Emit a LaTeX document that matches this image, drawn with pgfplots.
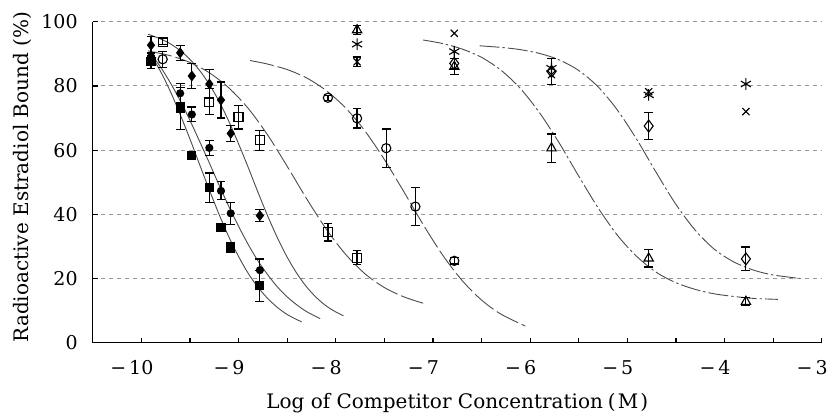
\documentclass[border=0pt]{standalone}
\usepackage{fontspec}
\setmainfont{DejaVu Serif}
\usepackage{pgfplots}
\pgfplotsset{compat=1.18}
\definecolor{gridgray}{gray}{0.6}
\definecolor{curvegray}{gray}{0.3}
\tikzset{
  fitline/.style={curvegray, line width=0.45pt, smooth, no markers},
  dlong/.style={dash pattern=on 12pt off 2pt},
  ddot/.style={dash pattern=on 10pt off 1.5pt on 1.2pt off 1.5pt},
}
\pgfplotsset{
  pts/.style={black, only marks, line width=0.55pt,
    error bars/y dir=both, error bars/y explicit,
    error bars/error bar style={line width=0.6pt, black, solid},
    error bars/error mark options={rotate=90, mark size=2.2pt, line width=0.6pt, black}},
  bare/.style={black, only marks, line width=0.55pt},
}
\newcommand{\negl}[1]{\llap{−\hspace{1.5pt}}#1}
\begin{document}
\begin{tikzpicture}
\begin{axis}[
  scale only axis, width=364.5pt, height=160.5pt,
  xmin=-10.5, xmax=-3, ymin=0, ymax=100,
  axis x line*=bottom, axis y line*=left,
  axis line style={line width=0.75pt, black},
  xtick={-10,-9,...,-3}, minor xtick={-10.5,-9.5,...,-3.5},
  xticklabels={\negl{10},\negl{9},\negl{8},\negl{7},\negl{6},\negl{5},\negl{4},\negl{3}},
  ytick={0,20,...,100}, yticklabels={0,20,40,60,80,100},
  tick align=inside, major tick length=2.5pt, minor tick length=2.5pt,
  tick style={line width=0.6pt, black},
  ymajorgrids, grid style={gridgray, line width=0.5pt, dash pattern=on 2pt off 2pt},
  tick label style={font=\fontsize{9.5}{11}\selectfont},
  xticklabel style={yshift=-5.5pt},
  yticklabel style={xshift=-4pt},
  label style={font=\fontsize{10}{12}\selectfont},
  xlabel={Log of Competitor Concentration\hspace{0.25em}(\hspace{0.1em}M\hspace{0.1em})},
  ylabel={Radioactive Estradiol Bound (\%)},
  xlabel style={at={(axis description cs:0.5,-0.204)}, anchor=base},
  ylabel style={at={(axis description cs:-0.088,0.516)}, anchor=base},
  clip=false,
]
% fitted curves
\addplot[fitline] coordinates {(-9.91,90.2) (-9.8,84.4) (-9.7,78.2) (-9.6,71.1) (-9.5,63.5) (-9.4,55.5) (-9.3,47.6) (-9.2,40.0) (-9.1,33.0) (-9.0,26.9) (-8.9,21.6) (-8.8,17.3) (-8.7,13.8) (-8.6,11.0) (-8.5,8.8) (-8.4,7.2) (-8.35,6.5)};
\addplot[fitline] coordinates {(-9.91,90.3) (-9.8,85.8) (-9.7,80.9) (-9.6,75.4) (-9.5,69.3) (-9.4,62.7) (-9.3,56.0) (-9.2,49.1) (-9.1,42.5) (-9.0,36.3) (-8.9,30.6) (-8.8,25.5) (-8.7,21.2) (-8.6,17.4) (-8.5,14.3) (-8.4,11.8) (-8.3,9.7) (-8.16,7.5)};
\addplot[fitline] coordinates {(-9.93,96.1) (-9.8,94.6) (-9.7,93.1) (-9.6,91.0) (-9.5,88.3) (-9.4,84.8) (-9.3,80.5) (-9.2,75.2) (-9.1,69.0) (-9.0,62.0) (-8.9,54.6) (-8.8,46.9) (-8.7,39.5) (-8.6,32.7) (-8.5,26.7) (-8.4,21.6) (-8.3,17.4) (-8.2,14.1) (-8.1,11.5) (-8.0,9.6) (-7.92,8.4)};
\addplot[fitline, dlong] coordinates {(-9.93,90.9) (-9.7,89.4) (-9.5,87.3) (-9.3,84.1) (-9.1,79.4) (-8.9,73.0) (-8.7,64.7) (-8.5,55.0) (-8.3,44.9) (-8.1,35.5) (-7.9,27.6) (-7.7,21.5) (-7.5,17.2) (-7.3,14.3) (-7.1,12.3)};
\addplot[fitline, dlong] coordinates {(-8.88,87.9) (-8.7,86.8) (-8.5,85.1) (-8.3,82.5) (-8.1,78.6) (-7.9,73.2) (-7.7,66.0) (-7.5,57.1) (-7.3,47.1) (-7.1,36.8) (-6.9,27.3) (-6.7,19.4) (-6.5,13.3) (-6.3,8.9) (-6.05,5.2)};
\addplot[fitline, ddot] coordinates {(-7.1,94.3) (-6.9,93.2) (-6.7,91.5) (-6.5,88.9) (-6.3,84.9) (-6.1,79.2) (-5.9,71.5) (-5.7,62.2) (-5.5,51.9) (-5.3,42.0) (-5.1,33.4) (-4.9,26.8) (-4.7,21.9) (-4.5,18.7) (-4.3,16.6) (-4.1,15.2) (-3.9,14.4) (-3.7,13.8) (-3.45,13.5)};
\addplot[fitline, ddot] coordinates {(-6.52,92.5) (-6.3,92.0) (-6.1,91.3) (-5.9,90.1) (-5.7,88.1) (-5.5,84.8) (-5.3,79.7) (-5.1,72.4) (-4.9,63.2) (-4.7,52.9) (-4.5,43.1) (-4.3,35.0) (-4.1,29.0) (-3.9,25.1) (-3.7,22.6) (-3.5,21.1) (-3.22,20.0)};
% filled squares
\addplot[pts, mark=square*, mark size=2pt] coordinates {
(-9.90,87.5) +- (0,2) (-9.60,73.0) +- (0,6.5) (-9.48,58.3) +- (0,0.8) (-9.30,48.3) +- (0,4.6)
(-9.18,35.8) +- (0,1) (-9.08,29.6) +- (0,1.6) (-8.78,17.7) +- (0,4.8)};
% filled circles
\addplot[pts, mark=*, mark size=1.75pt] coordinates {
(-9.90,89) +- (0,1.5) (-9.60,77.7) +- (0,3) (-9.48,71.1) +- (0,2.3) (-9.30,60.7) +- (0,2.3)
(-9.18,47.3) +- (0,2.8) (-9.08,40.3) +- (0,3.5) (-8.78,22.6) +- (0,3.5)};
% filled diamonds
\addplot[pts, mark=diamond*, mark size=2.3pt] coordinates {
(-9.90,92.7) +- (0,2.6) (-9.60,90.3) +- (0,2.3) (-9.48,83.1) +- (0,3.9) (-9.30,80.6) +- (0,4.5)
(-9.18,75.6) +- (0,5.6) (-9.08,65.2) +- (0,2.4) (-8.78,39.6) +- (0,1.8)};
% open squares
\addplot[pts, mark=square, mark size=2.25pt] coordinates {
(-9.78,93.8) +- (0,1) (-9.30,75.1) +- (0,4) (-9.00,70.2) +- (0,3.6) (-8.78,63.1) +- (0,3.1)
(-8.08,34.4) +- (0,2.7) (-7.78,26.5) +- (0,2.2)};
% open circles
\addplot[pts, mark=o, mark size=2.3pt] coordinates {
(-9.78,88.3) +- (0,2.5) (-8.08,76.3) +- (0,0.8) (-7.78,69.9) +- (0,3) (-7.48,60.6) +- (0,6)
(-7.18,42.4) +- (0,6) (-6.78,25.5) +- (0,1)};
% open triangles
\addplot[pts, mark=triangle, mark size=2.7pt] coordinates {
(-7.78,97.4) +- (0,1.5) (-6.78,86.0) +- (0,2.5) (-5.78,60.6) +- (0,4.4) (-4.78,26.3) +- (0,2.7)
(-3.78,12.8) +- (0,1.2)};
% open diamonds
\addplot[pts, mark=diamond, mark size=3pt] coordinates {
(-6.78,87.0) +- (0,1.5) (-5.78,84.5) +- (0,4) (-4.78,67.5) +- (0,4.1) (-3.78,26.1) +- (0,3.7)};
% asterisks
\addplot[bare, mark=asterisk, mark size=2.9pt] coordinates {
(-7.78,93.0) (-6.78,90.7) (-5.78,85.5) (-4.78,77.2) (-3.78,80.6)};
% crosses
\addplot[pts, mark=x, mark size=2.5pt] coordinates {(-7.78,87.5) +- (0,1.5)};
\addplot[bare, mark=x, mark size=2.5pt] coordinates {
(-6.78,96.4) (-5.78,83.5) (-4.78,78.2) (-3.78,72.0)};
\end{axis}
\pgfresetboundingbox
\path ([shift={(-46.35pt,-35.65pt)}]current axis.south west) rectangle ([shift={(2.65pt,10.85pt)}]current axis.north east);
\end{tikzpicture}
\end{document}
